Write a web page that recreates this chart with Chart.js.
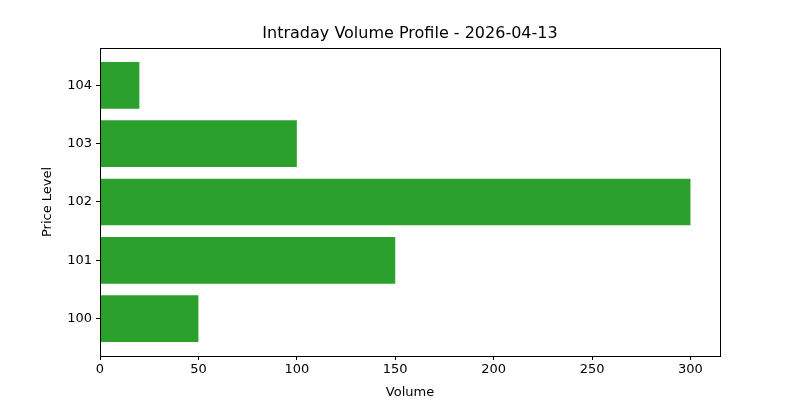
<!DOCTYPE html>
<html>
<head>
<meta charset="utf-8">
<script src="https://cdn.jsdelivr.net/npm/chart.js@4"></script>
<style>body{margin:0;background:#fff}</style>
</head>
<body>
<canvas id="c" width="800" height="400"></canvas>
<script>
const chartTitle = 'Intraday Volume Profile - 2026-04-13';
const priceLevels = ['100', '101', '102', '103', '104'];
const volumes = [50, 150, 300, 100, 20];
const xTicks = [0, 50, 100, 150, 200, 250, 300];

const font = { family: 'DejaVu Sans', size: 13 };

// full box around the plot area plus a title centred on it
const frame = {
    id: 'frame',
    afterDraw(chart) {
        const { ctx, chartArea: a } = chart;
        ctx.save();
        ctx.strokeStyle = '#000';
        ctx.lineWidth = 1;
        ctx.strokeRect(a.left + 0.5, a.top + 0.5, a.right - a.left, a.bottom - a.top);
        ctx.fillStyle = '#000';
        ctx.font = '16px "DejaVu Sans"';
        ctx.textAlign = 'center';
        ctx.textBaseline = 'middle';
        ctx.fillText(chartTitle, (a.left + a.right) / 2, 34);
        ctx.restore();
    }
};

new Chart(document.getElementById('c'), {
    type: 'bar',
    data: {
        datasets: [{
            data: volumes.map((v, i) => ({ x: v, y: i })),
            backgroundColor: '#2ca02c',
            categoryPercentage: 1,
            barPercentage: 0.8
        }]
    },
    options: {
        indexAxis: 'y',
        responsive: false,
        animation: false,
        layout: { padding: { left: 40, right: 80, top: 48, bottom: 0 } },
        plugins: {
            legend: { display: false },
            tooltip: { enabled: false }
        },
        scales: {
            x: {
                type: 'linear',
                min: 0,
                max: 315,
                afterBuildTicks: s => { s.ticks = xTicks.map(v => ({ value: v })); },
                afterFit: s => { s.height = 44; },
                ticks: { color: '#000', font, padding: 2 },
                grid: { drawOnChartArea: false, drawTicks: true, tickLength: 4, color: '#000' },
                border: { display: false },
                title: { display: true, text: 'Volume', color: '#000', font, padding: 0 }
            },
            y: {
                type: 'linear',
                offset: false,
                min: -0.64,
                max: 4.64,
                afterBuildTicks: s => { s.ticks = priceLevels.map((p, i) => ({ value: i })); },
                afterFit: s => { s.width = 60; },
                ticks: { color: '#000', font, padding: 4, callback: v => priceLevels[v] },
                grid: { drawOnChartArea: false, drawTicks: true, tickLength: 4, color: '#000', offset: false },
                border: { display: false },
                title: { display: true, text: 'Price Level', color: '#000', font, padding: 0 }
            }
        }
    },
    plugins: [frame]
});
</script>
</body>
</html>
